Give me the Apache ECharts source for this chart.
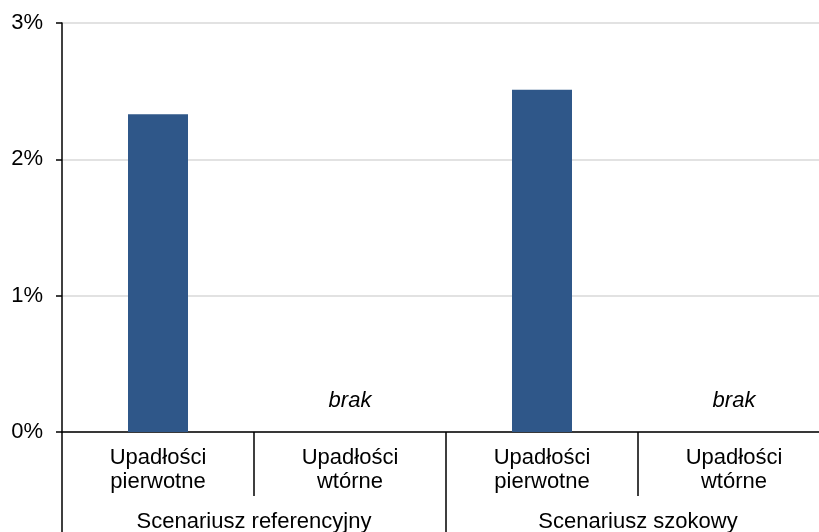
<!DOCTYPE html>
<html>
<head>
<meta charset="utf-8">
<script src="https://cdn.jsdelivr.net/npm/echarts@6/dist/echarts.min.js"></script>
<style>
  html, body { margin: 0; padding: 0; background: #fff; }
  #chart { width: 819px; height: 532px; }
</style>
</head>
<body>
<div id="chart"></div>
<script>
// Default rates by scenario (percent)
const categories = ['Upadłości\npierwotne', 'Upadłości\nwtórne', 'Upadłości\npierwotne', 'Upadłości\nwtórne'];
const groups = ['Scenariusz referencyjny', 'Scenariusz szokowy'];
const values = [2.33, '-', 2.51, '-'];
const notes = ['', 'brak', '', 'brak'];
const yTicks = [0, 1, 2, 3];

const font = '"Liberation Sans", Arial, sans-serif';
const fs = 22;
const noteData = notes.map(n => (n ? 0 : '-'));

const chart = echarts.init(document.getElementById('chart'), null, { renderer: 'canvas' });
chart.setOption({
  animation: false,
  backgroundColor: '#ffffff',
  grid: { left: 62, top: 23, width: 768, bottom: 100, containLabel: false, outerBoundsMode: 'none' },
  xAxis: [
    {
      type: 'category',
      data: categories,
      position: 'bottom',
      axisLine: { show: true, lineStyle: { color: '#000', width: 1.5 } },
      axisTick: { show: true, interval: 0, length: 64, lineStyle: { color: '#000', width: 1.5 } },
      axisLabel: { interval: 0, color: '#000', fontSize: fs, fontFamily: font, lineHeight: 24, margin: 14 },
      splitLine: { show: false }
    },
    {
      type: 'category',
      data: groups,
      position: 'bottom',
      axisLine: { show: false },
      axisTick: { show: true, interval: 0, length: 100, lineStyle: { color: '#000', width: 1.5 } },
      axisLabel: { interval: 0, color: '#000', fontSize: fs, fontFamily: font, lineHeight: 24, margin: 78 },
      splitLine: { show: false }
    }
  ],
  yAxis: {
    type: 'value',
    min: yTicks[0],
    max: yTicks[yTicks.length - 1],
    interval: 1,
    axisLine: { show: true, lineStyle: { color: '#000', width: 1.5 } },
    axisTick: { show: true, length: 6, lineStyle: { color: '#000', width: 1.5 } },
    axisLabel: { formatter: '{value}%', color: '#000', fontSize: fs, fontFamily: font, margin: 19 },
    splitLine: { show: true, lineStyle: { color: '#d9d9d9', width: 1.5 } }
  },
  series: [
    {
      type: 'bar',
      xAxisIndex: 0,
      data: values,
      barWidth: 60,
      barGap: '-100%',
      itemStyle: { color: '#2f5789' }
    },
    {
      type: 'bar',
      xAxisIndex: 0,
      data: noteData,
      barWidth: 60,
      itemStyle: { color: 'transparent' },
      label: {
        show: true,
        position: 'top',
        distance: 20,
        formatter: p => notes[p.dataIndex],
        color: '#000',
        fontSize: fs,
        fontStyle: 'italic',
        fontFamily: font
      }
    }
  ]
});
</script>
</body>
</html>
